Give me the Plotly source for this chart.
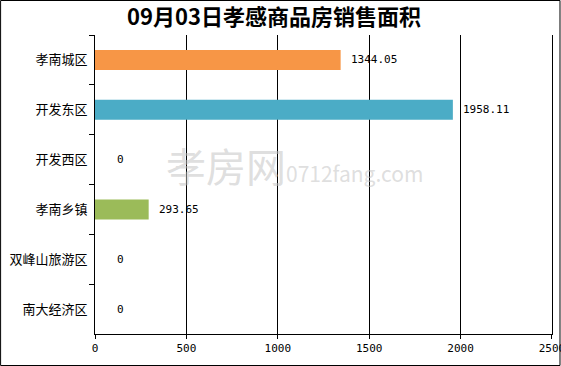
import plotly.graph_objects as go

categories = ["孝南城区", "开发东区", "开发西区", "孝南乡镇", "双峰山旅游区", "南大经济区"]
values = [1344.05, 1958.11, 0, 293.65, 0, 0]
colors = ["#F79646", "#4BACC6", "#4BACC6", "#9BBB59", "#9BBB59", "#9BBB59"]
label_texts = ["1344.05", "1958.11", "0", "293.65", "0", "0"]
x_ticks = [0, 500, 1000, 1500, 2000, 2500]
title_text = "09月03日孝感商品房销售面积"

W, H = 561, 366
L, R, T, B = 95, 8.5, 35, 32
pw = W - L - R
ph = H - T - B

fig = go.Figure()
fig.add_trace(go.Bar(
    y=categories, x=values, orientation="h",
    marker=dict(color=colors, line=dict(width=0)),
    width=0.4, hoverinfo="skip",
))

for c, v, t in zip(categories, values, label_texts):
    fig.add_annotation(
        x=v, y=c, xref="x", yref="y", text=t, showarrow=False,
        xanchor="left", yanchor="middle", xshift=(8 if v > 0 else 20),
        font=dict(family="DejaVu Sans Mono, monospace", size=11, color="#000"),
    )

# watermark
fig.add_annotation(
    x=(295 - L) / pw, y=(H - B - 165) / ph, xref="paper", yref="paper",
    text="孝房网<span style='font-size:21px'>0712fang.com</span>",
    showarrow=False, font=dict(family="Noto Sans CJK SC", size=40, color="rgba(195,195,195,0.55)"),
)

# outer border
fig.add_shape(
    type="rect", xref="paper", yref="paper",
    x0=(0.5 - L) / pw, x1=(W - 0.5 - L) / pw,
    y0=(H - B - (H - 0.5)) / ph, y1=(H - B - 0.5) / ph,
    line=dict(color="#000", width=1), fillcolor="rgba(0,0,0,0)",
)

fig.update_layout(
    width=W, height=H,
    margin=dict(l=L, r=R, t=T, b=B, autoexpand=False),
    paper_bgcolor="white", plot_bgcolor="white",
    showlegend=False,
    title=dict(text=title_text, x=274 / W, xref="container", y=1 - 17 / H, yref="container",
               xanchor="center", yanchor="middle",
               font=dict(family="Noto Sans CJK SC", size=22, color="#000", weight="bold")),
    xaxis=dict(
        range=[0, 2500.5], tickvals=x_ticks, ticktext=[str(v) for v in x_ticks],
        showgrid=True, gridcolor="#000", gridwidth=1,
        showline=True, linecolor="#000", linewidth=1,
        ticks="outside", ticklen=4, tickcolor="#000",
        tickfont=dict(family="DejaVu Sans Mono, monospace", size=11, color="#000"),
        ticklabeloverflow="allow",
        zeroline=False, fixedrange=True, automargin=False,
    ),
    yaxis=dict(
        autorange="reversed", showgrid=False,
        showline=True, linecolor="#000", linewidth=1, mirror=True,
        ticks="outside", ticklen=5, tickcolor="#000", tickson="boundaries",
        ticklabelstandoff=4,
        tickfont=dict(family="Noto Sans CJK SC", size=13, color="#000"),
        zeroline=False, fixedrange=True, automargin=False,
    ),
)

fig.write_html("out.html", config={"displayModeBar": False, "staticPlot": True},
               post_script="document.body.style.margin='0';document.body.style.overflow='hidden';")
